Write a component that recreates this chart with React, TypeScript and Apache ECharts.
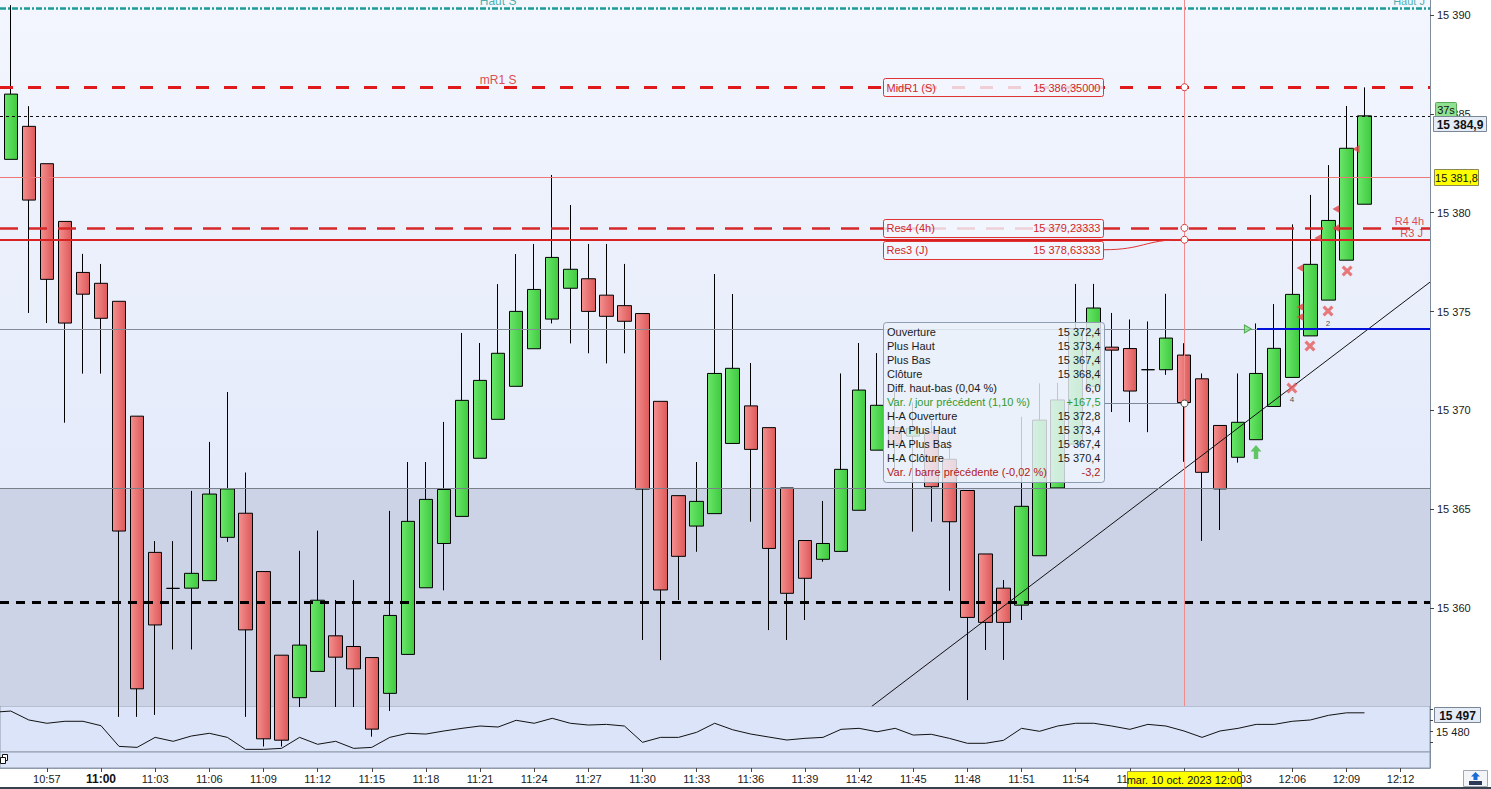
import React, { useEffect, useRef } from "react";
import * as echarts from "echarts";

const FONT = "'Liberation Sans', Arial, sans-serif";

// ---- candle times (1-minute Heikin-Ashi bars) ----
const times = [
  "10:54", "10:55", "10:56", "10:57", "10:58", "10:59",
  "11:00", "11:01", "11:02", "11:03", "11:04", "11:05", "11:06", "11:07", "11:08", "11:09",
  "11:10", "11:11", "11:12", "11:13", "11:14", "11:15", "11:16", "11:17", "11:18", "11:19",
  "11:20", "11:21", "11:22", "11:23", "11:24", "11:25", "11:26", "11:27", "11:28", "11:29",
  "11:30", "11:31", "11:32", "11:33", "11:34", "11:35", "11:36", "11:37", "11:38", "11:39",
  "11:40", "11:41", "11:42", "11:43", "11:44", "11:45", "11:46", "11:47", "11:48", "11:49",
  "11:50", "11:51", "11:52", "11:53", "11:54", "11:55", "11:56", "11:57", "11:58", "11:59",
  "12:00", "12:01", "12:02", "12:03", "12:04", "12:05", "12:06", "12:07", "12:08", "12:09", "12:10",
];

const opens = [
  15383.3, 15382.7, 15384.37, 15382.48, 15379.56, 15376.98,
  15376.43, 15375.52, 15369.71, 15362.82, 15361.0, 15361.01, 15361.39, 15363.58, 15364.8, 15361.85,
  15357.62, 15355.47, 15356.8, 15358.6, 15358.06, 15357.5, 15355.69, 15357.66, 15361.03, 15363.27,
  15364.64, 15367.58, 15369.55, 15371.22, 15373.12, 15374.62, 15376.18, 15376.66, 15375.83, 15375.3,
  15374.9, 15370.46, 15365.69, 15364.15, 15364.78, 15368.33, 15370.23, 15369.13, 15366.08, 15363.42,
  15362.47, 15362.87, 15364.95, 15367.99, 15369.13, 15368.7, 15368.9, 15367.53, 15365.95, 15362.74,
  15361.01, 15360.15, 15362.65, 15366.08, 15368.3, 15371.22, 15373.2, 15373.13, 15372.06, 15372.06,
  15372.8, 15371.6, 15369.24, 15367.63, 15368.52, 15370.2, 15371.67, 15373.77, 15375.58, 15377.6, 15380.43,
];
const closes = [
  15382.2, 15386.0, 15380.64, 15376.63, 15374.42, 15375.88,
  15374.66, 15363.9, 15355.92, 15359.15, 15361.0, 15361.76, 15365.77, 15366.03, 15358.9, 15353.39,
  15353.32, 15358.13, 15360.4, 15357.52, 15356.93, 15353.88, 15359.63, 15364.39, 15365.5, 15366.0,
  15370.51, 15371.52, 15372.89, 15375.01, 15376.12, 15377.74, 15377.14, 15375.01, 15374.76, 15374.51,
  15366.02, 15360.92, 15362.62, 15365.4, 15371.87, 15372.13, 15368.03, 15363.02, 15360.75, 15361.51,
  15363.27, 15367.02, 15371.03, 15370.26, 15368.3, 15369.1, 15366.14, 15364.37, 15359.53, 15359.28,
  15359.28, 15365.15, 15369.51, 15370.53, 15374.14, 15375.18, 15373.05, 15370.98, 15372.06, 15373.66,
  15370.4, 15366.87, 15366.03, 15369.4, 15371.87, 15373.14, 15375.87, 15377.39, 15379.61, 15383.26, 15384.9,
];
const lows = [
  15381.8, 15382.7, 15374.93, 15374.42, 15369.38, 15371.86,
  15371.86, 15354.5, 15354.5, 15354.6, 15357.91, 15357.91, 15361.39, 15363.35, 15354.5, 15353.0,
  15353.0, 15355.0, 15356.8, 15355.0, 15355.0, 15353.5, 15354.8, 15357.66, 15361.03, 15360.9,
  15364.64, 15367.58, 15369.55, 15371.22, 15373.12, 15374.4, 15373.39, 15372.89, 15372.38, 15372.89,
  15358.39, 15357.37, 15360.41, 15362.85, 15364.78, 15368.33, 15364.37, 15358.89, 15358.39, 15359.4,
  15362.35, 15362.87, 15364.95, 15367.99, 15367.0, 15363.87, 15364.37, 15360.88, 15355.35, 15357.88,
  15357.38, 15359.4, 15362.65, 15366.08, 15368.3, 15371.22, 15369.92, 15369.41, 15368.9, 15371.8,
  15367.4, 15363.4, 15363.95, 15367.36, 15368.52, 15370.2, 15371.67, 15373.77, 15375.58, 15377.6, 15380.43,
];
const highs = [
  15383.6, 15390.5, 15385.39, 15382.48, 15379.56, 15377.92,
  15377.41, 15375.52, 15369.71, 15363.39, 15363.39, 15365.93, 15368.41, 15370.93, 15366.86, 15361.85,
  15357.62, 15362.9, 15363.92, 15360.41, 15361.42, 15357.5, 15364.92, 15367.39, 15367.39, 15369.42,
  15373.92, 15373.41, 15376.39, 15377.91, 15378.42, 15381.91, 15380.39, 15378.42, 15378.42, 15377.41,
  15374.9, 15370.46, 15365.69, 15367.39, 15376.9, 15375.89, 15372.4, 15369.13, 15366.08, 15363.42,
  15365.42, 15371.87, 15373.41, 15372.9, 15371.0, 15370.4, 15369.5, 15368.5, 15365.95, 15362.74,
  15361.42, 15369.68, 15371.37, 15371.4, 15376.4, 15376.4, 15374.93, 15374.6, 15374.5, 15375.9,
  15373.4, 15371.87, 15369.24, 15371.87, 15374.4, 15375.38, 15379.41, 15380.9, 15382.41, 15385.4, 15386.34,
];

// ---- lower indicator panel ----
const indicatorValues = [
  15497.5, 15498.6, 15490.5, 15487.5, 15489.3, 15489.3,
  15485.3, 15466.5, 15465.6, 15474.7, 15471.1, 15475.9, 15478.4, 15474.7, 15463.8, 15463.8,
  15464.7, 15474.7, 15468.4, 15471.1, 15464.7, 15465.6, 15474.7, 15478.4, 15477.7, 15480.5,
  15482.9, 15485.0, 15484.1, 15490.2, 15487.5, 15492.0, 15487.5, 15485.9, 15486.5, 15485.0,
  15470.2, 15474.7, 15474.7, 15479.3, 15487.5, 15481.6, 15477.7, 15475.0, 15472.3, 15473.8,
  15474.7, 15482.0, 15482.9, 15479.8, 15482.9, 15476.8, 15477.5, 15473.8, 15469.3, 15469.3,
  15472.0, 15482.9, 15480.2, 15485.0, 15487.5, 15487.5, 15485.0, 15482.0, 15486.5, 15485.0,
  15480.5, 15474.7, 15480.5, 15482.9, 15486.5, 15486.5, 15489.3, 15490.5, 15494.7, 15497.0, 15497.0,
];

// ---- axes ----
const xTickLabels = [
  "10:57", "11:00", "11:03", "11:06", "11:09", "11:12", "11:15", "11:18", "11:21", "11:24",
  "11:27", "11:30", "11:33", "11:36", "11:39", "11:42", "11:45", "11:48", "11:51", "11:54",
  "11:57", "12:00", "12:03", "12:06", "12:09", "12:12",
];
const yTicks = [15360, 15365, 15370, 15375, 15380, 15385, 15390];
const subTicks = [15470, 15480, 15490, 15500];
const subLabels = [15480];
const X_MIN = -5.596;
const X_MAX = 73.63;
const Y_MIN = 15355.05;
const Y_MAX = 15390.76;
const SUB_MIN = 15461.4;
const SUB_MAX = 15503.2;

// ---- levels ----
const hautS = 15390.35;
const midR1S = 15386.35;
const lastPrice = 15384.9;
const cursorPrice = 15381.8;
const res4h = 15379.23333;
const res3J = 15378.63333;
const levelLine = 15374.12;
const zoneTop = 15366.07;
const lowDash = 15360.3;
const cursorTime = "12:00";
const haClose = 15370.4;
const blueStartTime = "12:04";
const trendline = [
  [42.7, 15355.03],
  [73.63, 15376.49],
];

// ---- signals ----
const signalTriangles = [
  [66.43, 15377.2], [66.43, 15375.23], [66.43, 15374.72], [67.42, 15378.72],
  [68.42, 15380.19], [68.42, 15379.23], [69.53, 15383.22],
];
const crossMarks = [
  [65.98, 15371.13], [66.98, 15373.26], [67.98, 15375.03], [69.04, 15377.05],
];
const countMarks = [
  { pos: [65.98, 15370.53], text: "4" },
  { pos: [67.98, 15374.42], text: "2" },
];
const upArrows = [[63.99, 15367.9]];
const entryMarks = [[63.54, levelLine]];

// ---- tooltip ----
const tipLabels = [
  "Ouverture", "Plus Haut", "Plus Bas", "Clôture", "Diff. haut-bas (0,04 %)",
  "Var. / jour précédent (1,10 %)", "H-A Ouverture", "H-A Plus Haut", "H-A Plus Bas",
  "H-A Clôture", "Var. / barre précédente (-0,02 %)",
];
const tipValues = [
  "15 372,4", "15 373,4", "15 367,4", "15 368,4", "6,0", "+167,5",
  "15 372,8", "15 373,4", "15 367,4", "15 370,4", "-3,2",
];
const tipColors = [
  "#1a1a1a", "#1a1a1a", "#1a1a1a", "#1a1a1a", "#1a1a1a", "#2f9a2f",
  "#1a1a1a", "#1a1a1a", "#1a1a1a", "#1a1a1a", "#b02020",
];
const cursorDateLabel = "mar. 10 oct. 2023 12:00";
const countdown = "37s";

function toMin(t: string) {
  const [h, m] = t.split(":").map(Number);
  return h * 60 + m - 660;
}
function fmtInt(v: number) {
  const s = Math.round(v).toString();
  return s.slice(0, s.length - 3) + " " + s.slice(-3);
}
function fmtDec(v: number, d: number) {
  const [i, f] = v.toFixed(d).split(".");
  return fmtInt(Number(i)) + "," + f;
}

function buildOption(): any {
  const candleData = times.map((t, i) => [toMin(t), opens[i], closes[i], lows[i], highs[i]]);
  const indData = times.map((t, i) => [toMin(t), indicatorValues[i]]);
  const tickMins = xTickLabels.map(toMin);

  const green = new echarts.graphic.LinearGradient(0, 0, 1, 0, [
    { offset: 0, color: "#6ae66a" },
    { offset: 1, color: "#3fca3f" },
  ]);
  const red = new echarts.graphic.LinearGradient(0, 0, 1, 0, [
    { offset: 0, color: "#f49090" },
    { offset: 1, color: "#de5858" },
  ]);

  const xHidden = (gi: number) => ({
    type: "value", gridIndex: gi, min: X_MIN, max: X_MAX, show: false,
    axisLine: { onZero: false }, splitLine: { show: false },
  });

  const labelItem = (m: number, p: number, text: string, color: string, align: string, size: number) => ({
    value: [m, p],
    label: {
      show: true, formatter: text, color, position: "inside", align, verticalAlign: "middle",
      offset: [0, -7], fontSize: size, fontFamily: FONT,
    },
  });

  return {
    animation: false,
    backgroundColor: "#ffffff",
    textStyle: { fontFamily: FONT },
    grid: [
      {
        left: 0, top: 0, width: 1430, height: 706, show: true, borderWidth: 0,
        backgroundColor: new echarts.graphic.LinearGradient(0, 0, 0, 1, [
          { offset: 0, color: "#f3f6fe" },
          { offset: 1, color: "#dde5f8" },
        ]),
      },
      { left: 0, top: 706, width: 1430, height: 46, show: true, backgroundColor: "#dbe4f8", borderColor: "#8e9aab", borderWidth: 1 },
      { left: 0, top: 752, width: 1430, height: 16, show: true, backgroundColor: "#dbe4f8", borderColor: "#8e9aab", borderWidth: 1 },
    ],
    xAxis: [
      xHidden(0),
      xHidden(1),
      {
        type: "value", gridIndex: 2, min: X_MIN, max: X_MAX, position: "bottom",
        axisLine: { show: true, onZero: false, lineStyle: { color: "#8e9aab" } },
        axisTick: { show: true, length: 4, customValues: tickMins, lineStyle: { color: "#444" } },
        axisLabel: {
          show: true, customValues: tickMins, margin: 5, fontSize: 11, color: "#1a1a1a", fontFamily: FONT,
          formatter: (v: number) => {
            const l = xTickLabels.find((s) => toMin(s) === Math.round(v)) || "";
            return l === "11:00" ? "{b|" + l + "}" : l;
          },
          rich: { b: { fontWeight: "bold", fontSize: 12, color: "#111", fontFamily: FONT } },
        },
        splitLine: { show: false },
      },
    ],
    yAxis: [
      {
        type: "value", gridIndex: 0, min: Y_MIN, max: Y_MAX, position: "right",
        axisLine: { show: true, onZero: false, lineStyle: { color: "#7f8c9c" } },
        axisTick: { show: true, length: 4, customValues: yTicks, lineStyle: { color: "#444" } },
        axisLabel: { show: true, customValues: yTicks, margin: 7, fontSize: 11, color: "#1a1a1a", fontFamily: FONT, formatter: (v: number) => fmtInt(v) },
        splitLine: { show: false },
      },
      {
        type: "value", gridIndex: 1, min: SUB_MIN, max: SUB_MAX, position: "right",
        axisLine: { show: true, onZero: false, lineStyle: { color: "#7f8c9c" } },
        axisTick: { show: true, length: 3, customValues: subTicks, lineStyle: { color: "#444" } },
        axisLabel: { show: true, customValues: subLabels, margin: 6, fontSize: 11, color: "#1a1a1a", fontFamily: FONT, formatter: (v: number) => fmtInt(v) },
        splitLine: { show: false },
      },
      {
        type: "value", gridIndex: 2, min: 0, max: 1, position: "right",
        axisLine: { show: true, onZero: false, lineStyle: { color: "#7f8c9c" } },
        axisTick: { show: false }, axisLabel: { show: false }, splitLine: { show: false },
      },
    ],
    series: [
      {
        name: "zone", type: "line", xAxisIndex: 0, yAxisIndex: 0, data: [], z: 1, silent: true,
        markArea: { silent: true, itemStyle: { color: "#cdd3e6" }, data: [[{ yAxis: Y_MIN }, { yAxis: zoneTop }]] },
      },
      {
        name: "candles", type: "candlestick", xAxisIndex: 0, yAxisIndex: 0, z: 2, barWidth: 14,
        dimensions: ["t", "open", "close", "lowest", "highest"],
        encode: { x: "t", y: ["open", "close", "lowest", "highest"] },
        data: candleData,
        itemStyle: { color: green, color0: red, borderColor: "#000", borderColor0: "#000", borderColorDoji: "#000", borderWidth: 1 },
      },
      {
        name: "levels", type: "line", xAxisIndex: 0, yAxisIndex: 0, data: [], z: 3, silent: true,
        markLine: {
          silent: true, symbol: ["none", "none"], label: { show: false },
          emphasis: { disabled: true },
          data: [
            { yAxis: zoneTop, lineStyle: { color: "#7a808a", width: 1, type: "solid" } },
            { yAxis: hautS, lineStyle: { color: "#1e9b98", width: 2.5, type: [6, 2, 2, 2] } },
            { yAxis: midR1S, lineStyle: { color: "#e01a1a", width: 3, type: [13, 15] } },
            { yAxis: lastPrice, lineStyle: { color: "#111", width: 1, type: [3, 3] } },
            { yAxis: res4h, lineStyle: { color: "#d62828", width: 2.5, type: [18, 11] } },
            { yAxis: res3J, lineStyle: { color: "#d82222", width: 2, type: "solid" } },
            { yAxis: levelLine, lineStyle: { color: "#858c96", width: 1, type: "solid" } },
            [
              { coord: [toMin(blueStartTime) + 0.05, levelLine], lineStyle: { color: "#0010d8", width: 2, type: "solid" } },
              { coord: [X_MAX, levelLine] },
            ],
            { yAxis: lowDash, lineStyle: { color: "#000", width: 3, type: [9, 7] } },
          ],
        },
      },
      {
        name: "trend", type: "line", xAxisIndex: 0, yAxisIndex: 0, data: trendline, z: 4, symbol: "none",
        clip: true, silent: true, lineStyle: { color: "#111", width: 1 },
      },
      {
        name: "indicator", type: "line", xAxisIndex: 1, yAxisIndex: 1, data: indData, symbol: "none",
        silent: true, lineStyle: { color: "#111", width: 1 },
      },
      {
        name: "levelLabels", type: "scatter", xAxisIndex: 0, yAxisIndex: 0, z: 5, symbolSize: 1, silent: true,
        itemStyle: { color: "rgba(0,0,0,0)" },
        data: [
          labelItem(22.0, hautS, "Haut S", "#1e9b98", "center", 12),
          labelItem(73.35, hautS, "Haut J", "#1e9b98", "right", 11),
          labelItem(22.0, midR1S, "mR1 S", "#d42020", "center", 12),
          labelItem(73.3, res4h, "R4 4h", "#d42020", "right", 11),
          labelItem(73.24, res3J, "R3 J", "#d42020", "right", 11),
        ],
      },
      {
        name: "signalTri", type: "scatter", z: 6,
        symbol: "path://M0,4 L7,0 L7,8 Z", symbolSize: [7, 8], silent: true,
        itemStyle: { color: "#e04444" }, data: signalTriangles,
      },
      {
        name: "crosses", type: "scatter", z: 6, silent: true,
        symbol: "path://M2,0 L5,3 L8,0 L10,2 L7,5 L10,8 L8,10 L5,7 L2,10 L0,8 L3,5 L0,2 Z",
        symbolSize: 11, itemStyle: { color: "#e65a5a" }, data: crossMarks,
      },
      {
        name: "counts", type: "scatter", z: 6, symbolSize: 1, silent: true, itemStyle: { color: "rgba(0,0,0,0)" },
        data: countMarks.map((c) => ({
          value: c.pos,
          label: { show: true, formatter: c.text, position: "inside", fontSize: 8, color: "#222", fontFamily: FONT },
        })),
      },
      {
        name: "upArrow", type: "scatter", z: 6, silent: true,
        symbol: "path://M5,0 L10,6 L7,6 L7,13 L3,13 L3,6 L0,6 Z", symbolSize: [11, 14],
        itemStyle: { color: "#3dbd3d" }, data: upArrows,
      },
      {
        name: "entry", type: "scatter", z: 6, silent: true,
        symbol: "path://M0,0 L7,4 L0,8 Z", symbolSize: [7, 8],
        itemStyle: { color: "#8ce08c", borderColor: "#2f9a2f", borderWidth: 1 }, data: entryMarks,
      },
    ],
  };
}

function buildGraphic(chart: any): any[] {
  const P = (m: number, p: number) => chart.convertToPixel({ xAxisIndex: 0, yAxisIndex: 0 }, [m, p]) as number[];
  const S = (m: number, v: number) => chart.convertToPixel({ xAxisIndex: 1, yAxisIndex: 1 }, [m, v]) as number[];
  const cursorMin = toMin(cursorTime);
  const [cxRaw, cyRaw] = P(cursorMin, cursorPrice);
  const cx = Math.round(cxRaw) + 0.5;
  const cy = Math.round(cyRaw) + 0.5;
  const axisX = P(X_MAX, Y_MIN)[0];
  const plotBottom = P(X_MIN, Y_MIN)[1];
  const els: any[] = [];
  const Z = 100;
  const text = (x: number, y: number, t: string, color: string, size: number, align = "left", weight = "normal") => ({
    type: "text", x, y, z: Z + 2, silent: true,
    style: {
      text: t, fill: color, font: `${weight} ${size}px ${FONT}`,
      textAlign: align, align, textVerticalAlign: "middle", verticalAlign: "middle",
    },
  });
  const rect = (x: number, y: number, w: number, h: number, fill: string, stroke: string, r = 0) => ({
    type: "rect", z: Z, silent: true, shape: { x, y, width: w, height: h, r },
    style: { fill, stroke, lineWidth: 1 },
  });
  const line = (x1: number, y1: number, x2: number, y2: number, stroke: string, z = Z) => ({
    type: "line", z, silent: true, shape: { x1, y1, x2, y2 }, style: { stroke, lineWidth: 1 },
  });

  // crosshair lines (under the boxes)
  els.push(line(0, cy, axisX, cy, "#ee7878", Z - 5));
  els.push(line(cx, 0, cx, plotBottom, "#f08c8c", Z - 5));

  // level label boxes
  const BOX_L = 883.5, BOX_W = 220, BOX_H = 18;
  const boxes = [
    { name: "MidR1 (S)", value: midR1S, shift: 0 },
    { name: "Res4 (4h)", value: res4h, shift: 0 },
    { name: "Res3 (J)", value: res3J, shift: 10 },
  ];
  boxes.forEach((b) => {
    const ly = P(cursorMin, b.value)[1];
    const yc = ly + b.shift;
    els.push(rect(BOX_L, Math.round(yc - BOX_H / 2) + 0.5, BOX_W, BOX_H, "rgba(243,246,255,0.82)", "#e03434", 2));
    els.push(text(BOX_L + 3, yc + 0.5, b.name, "#d02828", 11));
    els.push(text(BOX_L + BOX_W - 3, yc + 0.5, fmtDec(b.value, 5), "#d02828", 11, "right"));
    if (b.shift) {
      els.push({
        type: "bezierCurve", z: Z, silent: true,
        shape: { x1: BOX_L + BOX_W, y1: yc, cpx1: BOX_L + BOX_W + 40, cpy1: yc, cpx2: cx - 40, cpy2: ly, x2: cx - 3, y2: ly },
        style: { stroke: "#e03434", lineWidth: 1, fill: null },
      });
    }
    els.push({
      type: "circle", z: Z + 3, silent: true, shape: { cx, cy: ly, r: 3.5 },
      style: { fill: "#ffffff", stroke: "#e03030", lineWidth: 1 },
    });
  });

  // tooltip
  const TIP_X = 883.5, TIP_Y = 322.5, TIP_W = 221, TIP_H = 160;
  const hy = Math.round(P(cursorMin, haClose)[1]) + 0.5;
  els.push(line(TIP_X + TIP_W, hy, cx - 3, hy, "#7d8896"));
  els.push({
    type: "circle", z: Z + 3, silent: true, shape: { cx, cy: hy, r: 3.5 },
    style: { fill: "#ffffff", stroke: "#444", lineWidth: 1 },
  });
  els.push(rect(TIP_X, TIP_Y, TIP_W, TIP_H, "rgba(236,241,250,0.82)", "#8e9db0", 3));
  tipLabels.forEach((l, i) => {
    const y = TIP_Y + 9 + 14 * i;
    els.push(text(TIP_X + 3.5, y, l, tipColors[i], 11));
    els.push(text(TIP_X + TIP_W - 4, y, tipValues[i], tipColors[i], 11, "right"));
  });

  // right axis boxes
  const ly = P(cursorMin, lastPrice)[1];
  els.push(rect(axisX + 5.5, Math.round(ly) - 13.5, 21, 14, "#90e290", "#5aa85a", 1));
  els.push(text(axisX + 16, Math.round(ly) - 6.5, countdown, "#111", 11, "center"));
  els.push(rect(axisX + 3.5, Math.round(ly) + 0.5, 53, 15, "#e6ecf6", "#7a8696"));
  els.push(text(axisX + 30, Math.round(ly) + 8.5, fmtDec(lastPrice, 1), "#111", 12, "center", "bold"));

  els.push(rect(axisX + 4.5, Math.round(cyRaw) - 7.5, 44, 16, "#ffff00", "#8a8a50"));
  els.push(text(axisX + 26.5, Math.round(cyRaw) + 0.5, fmtDec(cursorPrice, 1), "#111", 11, "center"));

  const lastInd = indicatorValues[indicatorValues.length - 1];
  const iy = Math.max(707.5, Math.round(S(0, lastInd)[1]) - 7.5);
  els.push(rect(axisX + 4.5, iy, 46, 15, "#e6ecf6", "#7a8696"));
  els.push(text(axisX + 27.5, iy + 8, fmtInt(lastInd), "#111", 12, "center", "bold"));

  // crosshair date label
  els.push(rect(Math.round(cxRaw) - 56.5, 771.5, 114, 16, "#ffff00", "#9a9a50"));
  els.push(text(Math.round(cxRaw) + 0.5, 779.5, cursorDateLabel, "#111", 11, "center"));

  // bottom frame and small icons
  els.push({ type: "rect", z: Z, silent: true, shape: { x: 0, y: 787, width: 1491, height: 2 }, style: { fill: "#38424e" } });
  els.push(rect(2.5, 754.5, 5, 6, "#ffffff", "#111"));
  els.push(rect(0.5, 757.5, 5, 6, "#ffffff", "#111"));
  els.push(rect(1463.5, 770.5, 24, 16, "#f3f5f9", "#a0a8b4"));
  els.push({
    type: "polygon", z: Z + 1, silent: true,
    shape: { points: [[1475.5, 772], [1480, 776.5], [1477.5, 776.5], [1477.5, 780], [1473.5, 780], [1473.5, 776.5], [1471, 776.5]] },
    style: { fill: "#1a6ad8" },
  });
  els.push({ type: "rect", z: Z + 1, silent: true, shape: { x: 1469, y: 781, width: 13, height: 4 }, style: { fill: "#2c3a58" } });
  return els;
}

export default function App() {
  const ref = useRef<HTMLDivElement>(null);
  useEffect(() => {
    const el = ref.current;
    if (!el) return;
    const chart = echarts.init(el, null, { renderer: "svg" });
    chart.setOption(buildOption());
    chart.setOption({ graphic: { elements: buildGraphic(chart) } });
    return () => chart.dispose();
  }, []);
  return (
    <div
      ref={ref}
      style={{ position: "fixed", left: 0, top: 0, width: 1491, height: 789, background: "#fff", overflow: "hidden" }}
    />
  );
}
